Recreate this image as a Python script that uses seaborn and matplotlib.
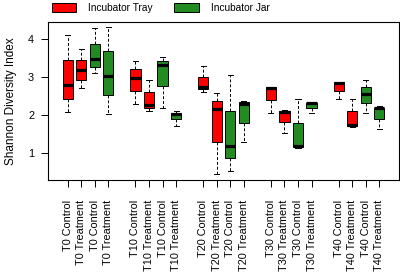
import numpy as np
import pandas as pd
import matplotlib
matplotlib.use("Agg")
import matplotlib.pyplot as plt
from matplotlib.patches import Patch
import seaborn as sns

# five-number summaries: [min, q1, median, q3, max]
times = ["T0", "T10", "T20", "T30", "T40"]
treatments = ["Control", "Treatment"]
incubators = ["Incubator Tray", "Incubator Jar"]
colors = {"Incubator Tray": "#FF0000", "Incubator Jar": "#228B22"}

tray_control = [[2.09, 2.43, 2.79, 3.46, 4.12], [2.29, 2.64, 2.99, 3.21, 3.43],
                [2.62, 2.70, 2.74, 3.01, 3.29], [2.06, 2.39, 2.72, 2.74, 2.75],
                [2.43, 2.63, 2.85, 2.87, 2.88]]
tray_treatment = [[2.72, 2.94, 3.18, 3.46, 3.75], [2.10, 2.18, 2.27, 2.61, 2.92],
                  [0.44, 1.29, 2.15, 2.37, 2.59], [1.54, 1.83, 2.08, 2.11, 2.13],
                  [1.68, 1.72, 1.75, 2.11, 2.42]]
jar_control = [[3.10, 3.27, 3.47, 3.89, 4.31], [2.18, 2.76, 3.33, 3.44, 3.54],
               [0.53, 0.87, 1.18, 2.12, 3.07], [1.14, 1.15, 1.18, 1.80, 2.42],
               [2.07, 2.32, 2.57, 2.75, 2.94]]
jar_treatment = [[2.02, 2.52, 3.04, 3.68, 4.32], [1.71, 1.89, 2.04, 2.07, 2.11],
                 [1.29, 1.79, 2.29, 2.34, 2.38], [2.07, 2.19, 2.31, 2.32, 2.33],
                 [1.63, 1.90, 2.18, 2.20, 2.23]]

stats = {
    ("Incubator Tray", "Control"): tray_control,
    ("Incubator Tray", "Treatment"): tray_treatment,
    ("Incubator Jar", "Control"): jar_control,
    ("Incubator Jar", "Treatment"): jar_treatment,
}

rows = []
order = []
labels = []
for i, t in enumerate(times):
    for inc in incubators:
        for tr in treatments:
            key = f"{t} {tr}|{inc}"
            order.append(key)
            labels.append(f"{t} {tr}")
            for v in stats[(inc, tr)][i]:
                rows.append({"slot": key, "value": v, "incubator": inc})
    if i < len(times) - 1:
        order.append(f"gap{i}")
df = pd.DataFrame(rows)

plt.rcParams["font.family"] = ["Liberation Sans", "DejaVu Sans"]

fig = plt.figure(figsize=(4, 2.74), dpi=100)
ax = fig.add_axes([0.12, 0.343, 0.8775, 0.577])

sns.boxplot(data=df, x="slot", y="value", hue="incubator", order=order,
            hue_order=incubators, palette=colors, saturation=1, dodge=False,
            whis=np.inf, width=0.75, linecolor="black", linewidth=0.7,
            legend=False, ax=ax,
            medianprops={"linewidth": 2.3, "solid_capstyle": "butt"},
            whiskerprops={"linestyle": (0, (3, 2)), "linewidth": 0.7},
            capprops={"linewidth": 0.7})

ticks = [i for i, k in enumerate(order) if not k.startswith("gap")]
ax.set_xticks(ticks)
ax.set_xticklabels(labels, rotation=90, fontsize=7.8)
ax.set_xlim(-1.46, len(order) - 1 + 1.46)
ax.set_ylim(0.29, 4.46)
ax.set_yticks([1, 2, 3, 4])
ax.tick_params(axis="y", labelsize=7.8, length=5, width=0.7, pad=5)
ax.tick_params(axis="x", length=5, width=0.7, pad=9)
ax.set_xlabel("")
ax.set_ylabel("Shannon Diversity Index", fontsize=8.5, labelpad=8)
for s in ax.spines.values():
    s.set_linewidth(0.8)
    s.set_color("black")

handles = [Patch(facecolor=colors[k], edgecolor="black", linewidth=0.7, label=k)
           for k in incubators]
fig.legend(handles=handles, loc="center left", bbox_to_anchor=(0.13, 0.972),
           ncol=2, frameon=False, fontsize=7.3, handlelength=2.4,
           handleheight=1.0, handletextpad=1.2, columnspacing=2.1,
           borderpad=0, borderaxespad=0)

fig.savefig("out.png", dpi=100)
